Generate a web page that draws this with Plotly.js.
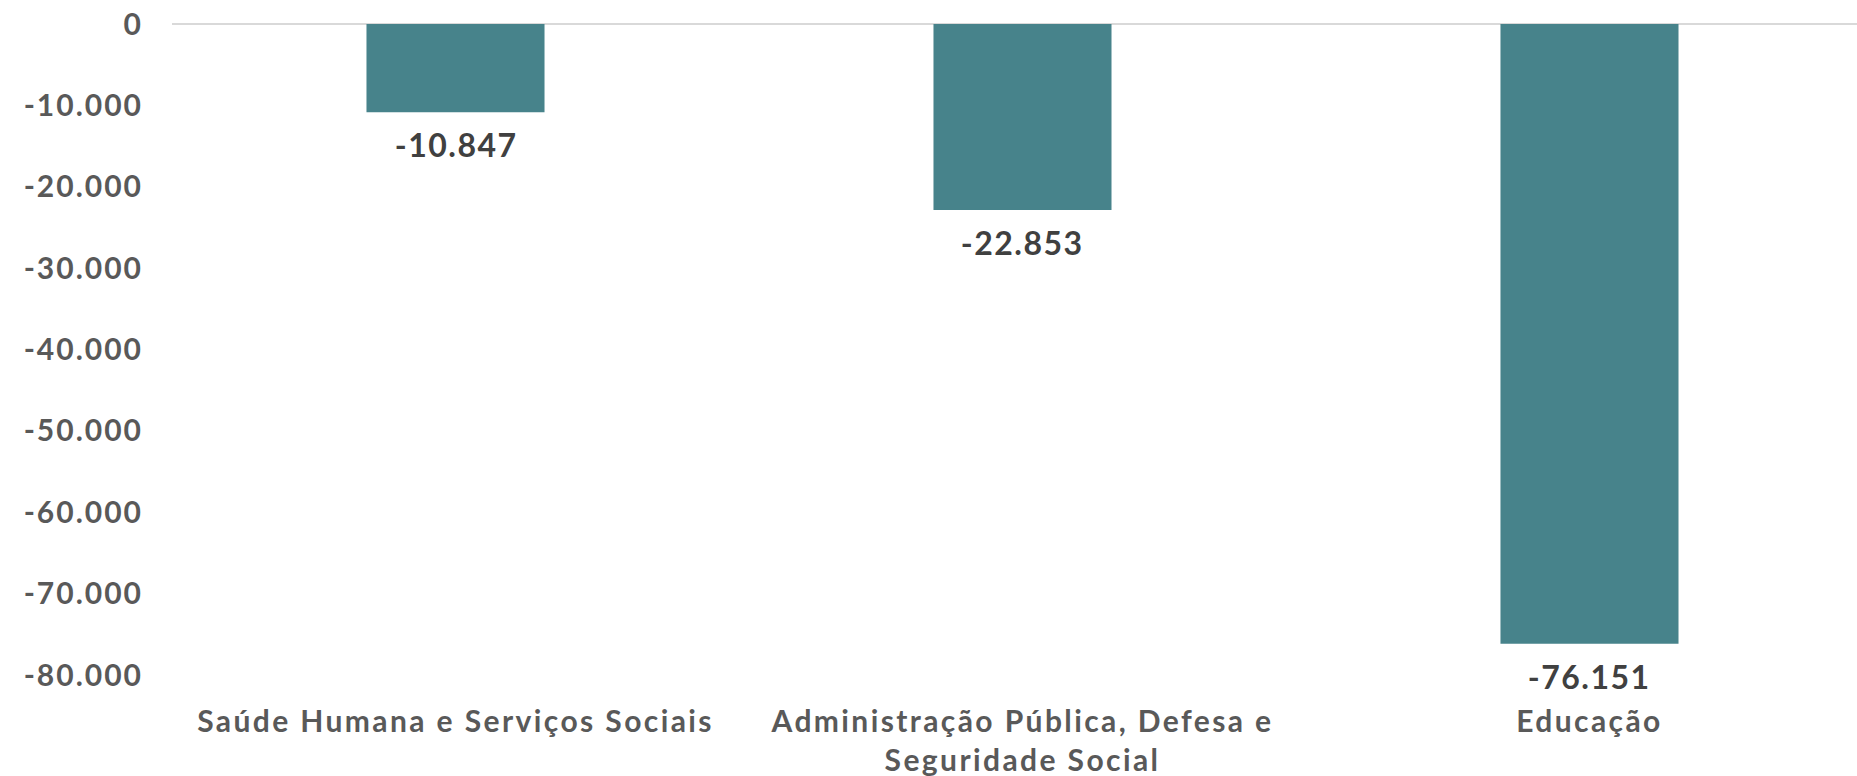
<!DOCTYPE html>
<html>
<head>
<meta charset="utf-8">
<script src="https://cdn.plot.ly/plotly-3.0.1.min.js"></script>
<style>
html,body{margin:0;padding:0;background:#fff;}
#chart{width:1857px;height:776px;}
#chart .xtick text{letter-spacing:2.4px;}
#chart .ytick text{letter-spacing:2px;}
#chart .annotation-text{letter-spacing:1.5px;}
</style>
</head>
<body>
<div id="chart"></div>
<script>
const categories = ["Saúde Humana e Serviços Sociais", "Administração Pública, Defesa e<br>Seguridade Social", "Educação"];
const values = [-10847, -22853, -76151];
const yTickVals = [0, -10000, -20000, -30000, -40000, -50000, -60000, -70000, -80000];
const yTickText = ["0", "-10.000", "-20.000", "-30.000", "-40.000", "-50.000", "-60.000", "-70.000", "-80.000"];

function fmt(v) {
  const s = Math.abs(v).toString().replace(/\B(?=(\d{3})+(?!\d))/g, ".");
  return (v < 0 ? "-" : "") + s;
}

const FONT = "Lato, 'Open Sans', sans-serif";

const trace = {
  type: "bar",
  x: categories,
  y: values,
  width: 0.314,
  marker: {color: "#47838b"},
  hoverinfo: "none"
};

const annotations = categories.map((c, i) => ({
  x: c, y: values[i], xref: "x", yref: "y",
  text: fmt(values[i]),
  showarrow: false,
  yanchor: "top",
  yshift: -11,
  font: {family: FONT, size: 32, color: "#404040", weight: 700}
}));

const layout = {
  width: 1857, height: 776,
  margin: {l: 172, r: 0, t: 24, b: 101},
  paper_bgcolor: "#fff", plot_bgcolor: "#fff",
  showlegend: false,
  xaxis: {
    type: "category",
    range: [-0.5, 2.4718],
    showgrid: false, zeroline: false, showline: false,
    ticks: "", ticklabelstandoff: 26,
    tickfont: {family: FONT, size: 30, color: "#595959", weight: 700}
  },
  yaxis: {
    range: [-80000, 0],
    tickvals: yTickVals, ticktext: yTickText,
    showgrid: false, showline: false,
    zeroline: true, zerolinecolor: "#d9d9d9", zerolinewidth: 2,
    ticks: "", ticklabelstandoff: 28,
    tickfont: {family: FONT, size: 30, color: "#595959", weight: 700}
  },
  annotations: annotations
};

Plotly.newPlot("chart", [trace], layout, {displayModeBar: false, staticPlot: true});
</script>
</body>
</html>
